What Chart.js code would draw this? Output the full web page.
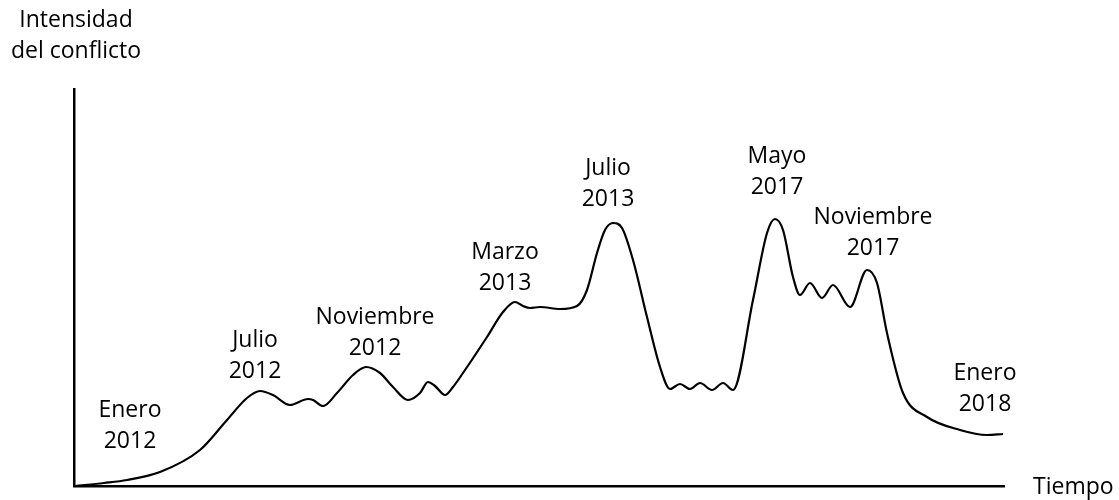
<!DOCTYPE html>
<html>
<head>
<meta charset="utf-8">
<script src="https://cdn.jsdelivr.net/npm/chart.js@4"></script>
<style>
  html, body { margin: 0; padding: 0; background: #fff; }
  #wrap { width: 1119px; height: 500px; position: relative; }
</style>
</head>
<body>
<div id="wrap"><canvas id="chart"></canvas></div>
<script>
// ---------------------------------------------------------------------------
// Curve (arbitrary units: time along x, intensity up y)
// ---------------------------------------------------------------------------

const TIME = [
  1, 30, 53, 86, 126, 153, 173, 186, 199, 216, 234, 239, 249, 263, 279, 292,
  306, 319, 334, 346, 354, 361, 371, 379, 389, 413, 429, 441, 449, 456, 466,
  486, 503, 513, 523, 531, 539, 548, 559, 573, 586, 596, 606, 616, 626, 638,
  649, 659, 679, 693, 701, 709, 719, 726, 736, 748, 759, 776, 793, 803, 813,
  829, 853, 886, 913, 929,
];

const INTENSITY = [
  0, 3, 6, 14, 36, 66, 88, 95, 91, 81, 87, 86, 80, 93, 111, 119,
  113, 99, 86, 93, 104, 100, 91, 99, 113, 149, 174, 184, 180, 178, 179,
  177, 180, 196, 233, 256, 263, 258, 226, 169, 119, 97, 102, 97, 103, 96,
  103, 96, 186, 253, 267, 256, 209, 191, 203, 188, 201, 179, 216, 203, 153,
  93, 69, 56, 51, 52,
];

const TIME_MAX = 930;
const INTENSITY_MAX = 397;

// Event labels, two lines each, anchored at a (time, intensity) spot
const EVENT_LINES = [
  ["Enero", "2012"],
  ["Julio", "2012"],
  ["Noviembre", "2012"],
  ["Marzo", "2013"],
  ["Julio", "2013"],
  ["Mayo", "2017"],
  ["Noviembre", "2017"],
  ["Enero", "2018"],
];
const EVENT_TIME = [56, 181, 301, 431, 534, 703, 799, 911];
const EVENT_INTENSITY = [76, 146, 169, 234, 318, 330, 269, 113];

const FONT = '23px "Open Sans", Lato, sans-serif';
const LINE_GAP = 31;

// ---------------------------------------------------------------------------
// Text plugin: event labels and axis captions
// ---------------------------------------------------------------------------

const labelsPlugin = {
  id: "labels",
  afterDraw(chart) {
    const { ctx, scales: { x, y }, chartArea } = chart;
    ctx.save();
    ctx.fillStyle = "#000";
    ctx.font = FONT;
    ctx.textAlign = "center";
    ctx.textBaseline = "middle";

    EVENT_LINES.forEach((lines, i) => {
      const cx = x.getPixelForValue(EVENT_TIME[i]);
      const cy = y.getPixelForValue(EVENT_INTENSITY[i]);
      lines.forEach((t, j) => ctx.fillText(t, cx, cy + j * LINE_GAP));
    });

    // y axis caption above the axis
    ctx.fillText("Intensidad", chartArea.left + 2, 20);
    ctx.fillText("del conflicto", chartArea.left + 2, 51);

    // x axis caption at the end of the axis
    ctx.textAlign = "left";
    ctx.fillText("Tiempo", chartArea.right + 29, chartArea.bottom + 1);
    ctx.restore();
  },
};

new Chart(document.getElementById("chart"), {
  type: "line",
  data: {
    datasets: [{
      data: TIME.map((t, i) => ({ x: t, y: INTENSITY[i] })),
      borderColor: "#000",
      borderWidth: 2.2,
      pointRadius: 0,
      fill: false,
      cubicInterpolationMode: "monotone",
    }],
  },
  options: {
    responsive: true,
    maintainAspectRatio: false,
    animation: false,
    layout: { padding: { left: 74, right: 115, top: 89, bottom: 14 } },
    plugins: { legend: { display: false }, tooltip: { enabled: false } },
    scales: {
      x: {
        type: "linear",
        min: 0,
        max: TIME_MAX,
        grid: { display: false, drawTicks: false },
        ticks: { display: false },
        border: { display: true, color: "#000", width: 2.5 },
      },
      y: {
        min: 0,
        max: INTENSITY_MAX,
        grid: { display: false, drawTicks: false },
        ticks: { display: false },
        border: { display: true, color: "#000", width: 2.5 },
      },
    },
  },
  plugins: [labelsPlugin],
});
</script>
</body>
</html>
